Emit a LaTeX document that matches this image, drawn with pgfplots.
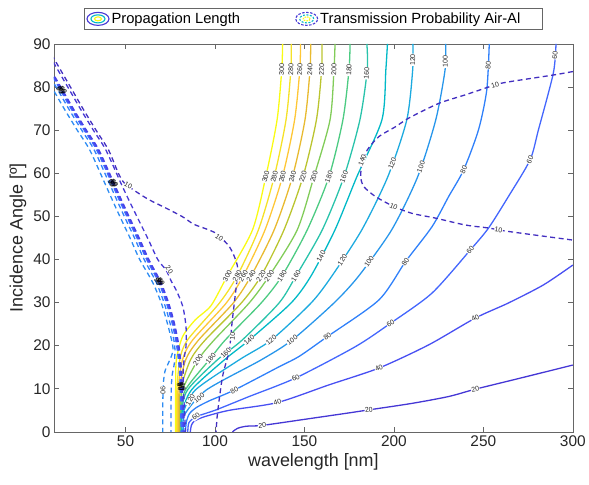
\documentclass[border=0pt]{standalone}
\usepackage{fontspec}
\setmainfont{Liberation Sans}
\usepackage{pgfplots}
\pgfplotsset{compat=1.18}
\definecolor{axgray}{rgb}{0.40,0.40,0.40}
\definecolor{txtgray}{rgb}{0.15,0.15,0.15}
\definecolor{c10}{rgb}{0.258,0.182,0.751}
\definecolor{c20}{rgb}{0.2706,0.2147,0.8364}
\definecolor{c30}{rgb}{0.279,0.263,0.906}
\definecolor{c40}{rgb}{0.281,0.310,0.950}
\definecolor{c50}{rgb}{0.278,0.356,0.977}
\definecolor{c60}{rgb}{0.264,0.400,0.993}
\definecolor{c70}{rgb}{0.227,0.453,0.998}
\definecolor{c80}{rgb}{0.184,0.503,0.982}
\definecolor{c90}{rgb}{0.176,0.548,0.954}
\definecolor{c100}{rgb}{0.154,0.590,0.922}
\definecolor{c120}{rgb}{0.108,0.666,0.873}
\definecolor{c140}{rgb}{0.005,0.725,0.780}
\definecolor{c160}{rgb}{0.160,0.763,0.670}
\definecolor{c180}{rgb}{0.300,0.798,0.510}
\definecolor{c200}{rgb}{0.504,0.799,0.348}
\definecolor{c220}{rgb}{0.734,0.768,0.185}
\definecolor{c240}{rgb}{0.911,0.731,0.190}
\definecolor{c260}{rgb}{0.996,0.781,0.210}
\definecolor{c280}{rgb}{0.962,0.884,0.156}
\definecolor{c300}{rgb}{0.977,0.984,0.080}
\tikzset{
  clab/.style={font=\fontsize{7}{7}\selectfont, fill=white, inner sep=0.4pt, text=txtgray},
  blab/.style={font=\fontsize{7}{7}\selectfont, inner sep=0pt, text=black},
}
\pgfplotsset{
  sol/.style={#1, line width=1.3bp, smooth, tension=0.45, forget plot},
  dsh/.style={#1, line width=1.3bp, smooth, tension=0.45, dash pattern=on 5bp off 3.5bp, forget plot},
  dsb/.style={#1, line width=1.4bp, smooth, tension=0.45, dash pattern=on 5bp off 3.5bp, forget plot},
}
\begin{document}
\begin{tikzpicture}
\begin{axis}[
  name=ax,
  width=519bp, height=388bp, scale only axis,
  xmin=10, xmax=300, ymin=0, ymax=90,
  xtick={50,100,...,300}, ytick={0,10,...,90},
  tick align=inside, major tick length=5bp,
  axis line style={draw=axgray, line width=0.6bp},
  every tick/.style={draw=axgray, line width=0.6bp},
  ticklabel style={font=\fontsize{15.5}{16}\selectfont, text=txtgray},
  /pgf/number format/assume math mode=true,
  xlabel={wavelength [nm]}, ylabel={Incidence Angle [º]},
  label style={font=\fontsize{18}{20}\selectfont, text=txtgray},
  legend columns=2,
  legend cell align=left,
  legend style={at={(0.5,1.038)}, anchor=south, draw=axgray, line width=0.6bp,
    font=\fontsize{14.8}{16}\selectfont, inner xsep=2bp, inner ysep=2bp,
    /tikz/every even column/.append style={column sep=53bp}},
]
\addlegendimage{legend image code/.code={
  \draw[c20,line width=1.1bp] (11bp,0) ellipse [x radius=11bp, y radius=6.5bp];
  \draw[c140,line width=1.1bp] (11bp,0) ellipse [x radius=7bp, y radius=4bp];
  \draw[c300,line width=1.1bp] (11bp,0) ellipse [x radius=3.5bp, y radius=2bp];}}
\addlegendentry{Propagation Length}
\addlegendimage{legend image code/.code={
  \draw[c20,line width=1.1bp,dash pattern=on 2.5bp off 1.5bp] (11bp,0) ellipse [x radius=11bp, y radius=6.5bp];
  \draw[c140,line width=1.1bp,dash pattern=on 2bp off 1.5bp] (11bp,0) ellipse [x radius=7bp, y radius=4bp];
  \draw[c300,line width=1.1bp,dash pattern=on 1.5bp off 1bp] (11bp,0) ellipse [x radius=3.5bp, y radius=2bp];}}
\addlegendentry{Transmission Probability Air-Al\hspace*{18bp}}

% ---------- Propagation length contours ----------
\addplot[sol=c20] coordinates {(109.8,0) (112.5,0.8) (117.3,1.3) (126.4,1.5) (150,2.9) (174.9,4.4) (186,5.1) (210,6.6) (230.6,8.2) (245.5,9.9) (270,12.4) (300,15.5)};
\addplot[sol=c40] coordinates {(86.2,0) (86.8,1.5) (88.5,2.5) (94,3.5) (108,5.0) (134.9,6.8) (163.7,10.9) (191.6,14.8) (219.5,20.2) (245.5,26.4) (264,29.9) (283.6,34.1) (300,38.7)};
\addplot[sol=c60] coordinates {(84.8,0) (85.4,2.1) (89.4,3.5) (100.6,5.1) (119.1,8.2) (145.1,12.5) (178.6,19.8) (198.1,25.2) (221.3,32.2) (242.7,42.2) (252.9,47.3) (264,54.6) (276.1,63.1) (280.8,70.1) (289.1,83.2) (290.6,90)};
\addplot[sol=c80] coordinates {(83.4,0) (84,2.3) (85.7,4.2) (89.4,5.6) (96.8,7.2) (110.8,9.7) (135.8,15.1) (147,17.5) (162.8,22.1) (191.6,30.6) (206.5,39.5) (221.3,47.6) (230.6,54.6) (239,60.8) (247.3,70.1) (251.9,79.3) (253.3,90)};
\addplot[sol=c100] coordinates {(82.6,0) (82.9,3.9) (95.1,9.7) (125.8,16.7) (143.1,21.3) (166.5,29.9) (180.4,36.2) (198.8,46.9) (213.3,59.2) (223.4,72.4) (228.6,84) (228.9,90)};
\addplot[sol=c120] coordinates {(81.8,0) (81.8,3.9) (89,9.7) (113.5,16.7) (131.4,21.3) (153.7,29.9) (165.4,36.2) (182.1,46.9) (196.6,59.2) (207.2,72.4) (210.5,84) (210.6,90)};
\addplot[sol=c140] coordinates {(81.2,0) (81.2,3.9) (86.8,9.7) (105.2,16.7) (119.1,21.3) (142.5,29.9) (153.7,36.2) (167.1,46.9) (179.3,59.2) (193.3,72.4) (195.5,84) (196.4,90)};
\addplot[sol=c160] coordinates {(80.9,0) (80.9,3.9) (84.6,9.7) (101.3,16.7) (115.2,21.3) (135.8,29.9) (145.3,36.2) (160,46.9) (172.1,59.2) (181,72.4) (185.1,84) (184.9,90)};
\addplot[sol=c180] coordinates {(80.7,0) (80.7,3.9) (83.4,9.7) (96.8,16.7) (105.7,21.3) (125.8,29.9) (137.5,36.2) (151.6,46.9) (163.7,59.2) (171.5,72.4) (174.9,84) (175.5,90)};
\addplot[sol=c200] coordinates {(80.4,0) (80.4,3.9) (81.8,9.7) (90.5,16.7) (99.5,21.3) (119.1,29.9) (130.3,36.2) (146,46.9) (155.3,59.2) (164.3,72.4) (166.5,84) (167.1,90)};
\addplot[sol=c220] coordinates {(80.1,0) (80.1,3.9) (80.7,9.7) (86.3,16.7) (94.5,21.3) (114.7,29.9) (125.8,36.2) (138.6,46.9) (149.2,59.2) (156.7,72.4) (159.6,84) (159.8,90)};
\addplot[sol=c240] coordinates {(79.7,0) (79.7,3.9) (80,9.7) (83.6,16.7) (90.8,21.3) (110.2,29.9) (120.2,36.2) (133.1,46.9) (143.3,59.2) (150.3,72.4) (153.1,84) (153.5,90)};
\addplot[sol=c260] coordinates {(79.2,0) (79.2,3.9) (79.3,9.7) (81.8,16.7) (87.5,21.3) (106.3,29.9) (115.8,36.2) (128,46.9) (137.7,59.2) (144.5,72.4) (147.4,84) (147.8,90)};
\addplot[sol=c280] coordinates {(78.6,0) (78.6,3.9) (78.7,9.7) (80.3,16.7) (84.6,21.3) (102.5,29.9) (112.4,36.2) (124.3,46.9) (133.1,59.2) (139.7,72.4) (142.4,84) (142.6,90)};
\addplot[sol=c300] coordinates {(78,0) (78,3.9) (78,9.7) (78.4,16.7) (81.9,22.1) (89,26) (97.8,29.3) (106.9,36.2) (121,46.9) (128.4,59.2) (134.7,72.4) (137.3,84) (137.8,90)};

% ---------- Transmission probability contours ----------
\addplot[dsh=c90] coordinates {(-4.1,89.2) (5.5,82.3) (9.7,79.3) (16.1,74.7) (23,70) (30,65.4) (38.4,57.7) (42.4,54) (46.8,50) (52.5,45) (57.9,40) (64.9,34.9) (69.9,30) (73.5,25) (76.4,20) (76,18) (74,16) (72,14) (71.1,11) (70.8,6) (70.8,0)};
\addplot[dsh=c80] coordinates {(-1.6,89.2) (8,82.3) (12.2,79.3) (18.6,74.7) (25.5,70) (32.5,65.4) (40.9,57.7) (44.9,54) (49.3,50) (55,45) (60.4,40) (66.9,34.9) (71.5,30) (75,25) (77.5,20) (77.3,16) (76,13) (75.5,9) (75.4,0)};
\addplot[dsb=c70] coordinates {(-0.2,89.2) (9.4,82.3) (13.6,79.3) (20,74.7) (26.9,70) (33.9,65.4) (42.3,57.7) (46.3,54) (50.7,50) (56.4,45) (61.8,40) (68.3,34.9) (72.8,30) (76.2,25) (78.6,20) (80,15) (80.6,10.5) (80.9,5) (81,0)};
\addplot[dsb=c60] coordinates {(0.1,89.2) (9.7,82.3) (13.9,79.3) (20.3,74.7) (27.2,70) (34.2,65.4) (42.6,57.7) (46.6,54) (51,50) (56.7,45) (62.1,40) (68.6,34.9) (73.1,30) (76.5,25) (78.9,20) (80.3,15) (80.9,10.5) (81.3,5) (81.5,0)};
\addplot[dsb=c50] coordinates {(0.4,89.2) (10,82.3) (14.2,79.3) (20.6,74.7) (27.5,70) (34.5,65.4) (42.9,57.7) (46.9,54) (51.3,50) (57,45) (62.4,40) (68.9,34.9) (73.4,30) (76.8,25) (79.2,20) (80.5,15) (81,10.5) (81.7,5) (82,0)};
\addplot[dsb=c40] coordinates {(0.7,89.2) (10.3,82.3) (14.5,79.3) (20.9,74.7) (27.8,70) (34.8,65.4) (43.2,57.7) (47.2,54) (51.6,50) (57.3,45) (62.7,40) (69.2,34.9) (73.7,30) (77.1,25) (79.5,20) (80.8,15) (81.3,10.5) (82,5) (82.4,0)};
\addplot[dsb=c30] coordinates {(1,89.2) (10.6,82.3) (14.8,79.3) (21.2,74.7) (28.1,70) (35.1,65.4) (43.5,57.7) (47.5,54) (51.9,50) (57.6,45) (63,40) (69.5,34.9) (74,30) (77.4,25) (79.8,20) (81.1,15) (81.6,10.5) (82.4,5) (82.9,0)};
\addplot[dsh=c20] coordinates {(4.9,89.2) (14.5,82.3) (18.7,79.3) (25.1,74.7) (32,70) (39,65.4) (47.4,57.7) (51.6,54) (56.3,50) (62.3,45) (68,40) (72.7,37.5) (75.5,35) (78.3,32.9) (82,29.1) (83.8,24.4) (83.8,19.8) (82.9,17.5) (82.2,14) (82.3,10) (83,5) (83.5,0)};
\addplot[dsh=c10] coordinates {(6.4,89.2) (16,82.3) (20.2,79.3) (26.6,74.7) (33.5,70) (40.5,65.4) (46,60) (49.4,57.7) (56,55.7) (63.4,53.8) (72.7,51.9) (81.9,49.9) (88,48.2) (95,47.1) (100.6,46.1) (104,44.8) (108,43) (110.8,40.7) (112.6,38.3) (112.3,35.3) (110.8,29.9) (109.5,25.2) (108,19) (104.2,12.8) (101.4,4.3) (100.6,0)};
\addplot[dsh=c10] coordinates {(300,83.6) (289.1,82.8) (264,81.2) (256.6,80.5) (239.9,78.2) (225,76.2) (208.3,72.8) (200.9,70.8) (191.6,68.5) (185.1,65.4) (182.3,62.3) (181.4,59.2) (183.2,56.9) (189.7,54.6) (199.9,52.3) (210.1,50.7) (223.2,49.6) (239.9,48) (252.9,47.3) (264,46.5) (300,44.5)};

% ---------- contour labels ----------
\node[clab,rotate=88] at (axis cs:137.3,84) {300};
\node[clab,rotate=88] at (axis cs:142.4,84) {280};
\node[clab,rotate=88] at (axis cs:147.4,84) {260};
\node[clab,rotate=88] at (axis cs:153.1,84) {240};
\node[clab,rotate=88] at (axis cs:159.6,84) {220};
\node[clab,rotate=88] at (axis cs:166.5,84) {200};
\node[clab,rotate=87] at (axis cs:174.9,84) {180};
\node[clab,rotate=86] at (axis cs:184.8,83.2) {160};
\node[clab,rotate=89] at (axis cs:210.5,86.3) {120};
\node[clab,rotate=89] at (axis cs:228.7,85.9) {100};
\node[clab,rotate=86] at (axis cs:252.7,85.1) {80};
\node[clab,rotate=84] at (axis cs:290,87.4) {60};

\node[clab,rotate=76] at (axis cs:128.4,59.2) {300};
\node[clab,rotate=76] at (axis cs:133.1,59.2) {280};
\node[clab,rotate=76] at (axis cs:137.7,59.2) {260};
\node[clab,rotate=75] at (axis cs:143.3,59.2) {240};
\node[clab,rotate=74] at (axis cs:149.2,59.2) {220};
\node[clab,rotate=73] at (axis cs:155.3,59.2) {200};
\node[clab,rotate=70] at (axis cs:163.7,59.2) {180};
\node[clab,rotate=68] at (axis cs:172.1,59.2) {160};
\node[clab,rotate=70] at (axis cs:182.3,63) {140};
\node[clab,rotate=68] at (axis cs:199.1,62.3) {120};
\node[clab,rotate=70] at (axis cs:215.1,61.5) {100};
\node[clab,rotate=66] at (axis cs:239,60.8) {80};
\node[clab,rotate=66] at (axis cs:276.1,63.1) {60};

\node[clab,rotate=61] at (axis cs:106.9,36.2) {300};
\node[clab,rotate=60] at (axis cs:112.4,36.2) {280};
\node[clab,rotate=59] at (axis cs:115.8,36.2) {260};
\node[clab,rotate=58] at (axis cs:120.2,36.2) {240};
\node[clab,rotate=57] at (axis cs:125.8,36.2) {220};
\node[clab,rotate=56] at (axis cs:130.3,36.2) {200};
\node[clab,rotate=56] at (axis cs:137.5,36.2) {180};
\node[clab,rotate=58] at (axis cs:145.3,36.2) {160};
\node[clab,rotate=62] at (axis cs:159.3,40.7) {140};
\node[clab,rotate=57] at (axis cs:171.2,39.9) {120};
\node[clab,rotate=56] at (axis cs:186.1,39.5) {100};
\node[clab,rotate=54] at (axis cs:206.5,39.5) {80};
\node[clab,rotate=50] at (axis cs:242.7,42.2) {60};
\node[clab,rotate=27] at (axis cs:245.5,26.4) {40};

\node[clab,rotate=41] at (axis cs:119.1,21.3) {140};
\node[clab,rotate=40] at (axis cs:131.4,21.3) {120};
\node[clab,rotate=36] at (axis cs:143.1,21.3) {100};
\node[clab,rotate=35] at (axis cs:162.8,22.1) {80};
\node[clab,rotate=28] at (axis cs:145.1,12.5) {60};
\node[clab,rotate=34] at (axis cs:198.1,25.2) {60};
\node[clab,rotate=17] at (axis cs:134.9,6.8) {40};
\node[clab,rotate=24] at (axis cs:191.6,14.8) {40};
\node[clab,rotate=4] at (axis cs:126.4,1.5) {20};
\node[clab,rotate=8] at (axis cs:186,5.1) {20};
\node[clab,rotate=14] at (axis cs:245.5,9.9) {20};
\node[clab,rotate=45] at (axis cs:106.1,18.3) {160};
\node[clab,rotate=50] at (axis cs:97.6,17.1) {180};
\node[clab,rotate=55] at (axis cs:90.5,16.7) {200};
\node[clab,rotate=40] at (axis cs:91.1,7.8) {100};
\node[clab,rotate=30] at (axis cs:110.8,9.7) {80};
\node[clab,rotate=35] at (axis cs:89.4,3.5) {60};
\node[clab,rotate=60] at (axis cs:86.2,7.4) {120};

\node[clab,rotate=18] at (axis cs:256.6,80.5) {10};
\node[clab,rotate=-24] at (axis cs:199.9,52.3) {10};
\node[clab,rotate=-8] at (axis cs:258.5,46.9) {10};
\node[clab,rotate=-30] at (axis cs:51.5,57.1) {10};
\node[clab,rotate=-36] at (axis cs:102.4,45) {10};
\node[clab,rotate=84] at (axis cs:109.8,22.1) {10};
\node[clab,rotate=-56] at (axis cs:74.5,37.6) {20};
\node[clab,rotate=-90] at (axis cs:71,9.7) {90};

% black label clusters
\node[blab,rotate=-56] at (axis cs:13.4,79.3) {90};
\node[blab,rotate=-56] at (axis cs:14.0,79.3) {80};
\node[blab,rotate=-56] at (axis cs:14.6,79.3) {70};
\node[blab,rotate=-56] at (axis cs:15.2,79.3) {60};
\node[blab,rotate=-56] at (axis cs:42.1,57.7) {90};
\node[blab,rotate=-56] at (axis cs:42.7,57.7) {80};
\node[blab,rotate=-56] at (axis cs:43.3,57.7) {70};
\node[blab,rotate=-56] at (axis cs:43.9,57.7) {60};
\node[blab,rotate=-62] at (axis cs:68.1,34.9) {90};
\node[blab,rotate=-62] at (axis cs:68.7,34.9) {80};
\node[blab,rotate=-62] at (axis cs:69.3,34.9) {70};
\node[blab,rotate=-62] at (axis cs:69.9,34.9) {60};
\node[blab,rotate=-75] at (axis cs:80.4,10.5) {90};
\node[blab,rotate=-75] at (axis cs:80.9,10.5) {80};
\node[blab,rotate=-75] at (axis cs:81.4,10.5) {70};
\node[blab,rotate=-75] at (axis cs:81.9,10.5) {60};
\end{axis}
\path ([xshift=-54bp,yshift=-53bp]ax.south west) rectangle ([xshift=16bp,yshift=44bp]ax.north east);
\end{tikzpicture}
\end{document}
